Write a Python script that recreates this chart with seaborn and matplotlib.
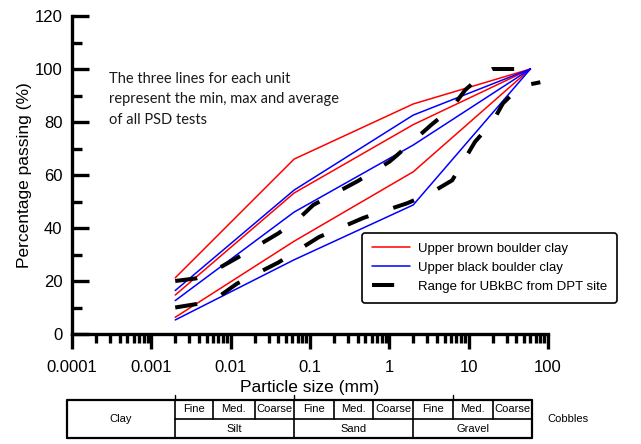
# 匯入套件
import numpy as np
import pandas as pd
import matplotlib
matplotlib.use("Agg")
import matplotlib.pyplot as plt
import seaborn as sns
from matplotlib.ticker import MultipleLocator, LogLocator, NullFormatter
from matplotlib.lines import Line2D

# 資料
sizes = [0.002, 0.063, 2, 60]
brown_max = [21.2, 66, 86.8, 100]
brown_avg = [14.7, 53.2, 79, 100]
brown_min = [6.3, 35, 61.2, 100]
black_max = [16.4, 54.3, 82.6, 100]
black_avg = [12.6, 46, 71.3, 100]
black_min = [5.3, 28, 48.7, 100]

dpt_upper_x = [0.002, 0.0037, 0.005, 0.012, 0.04, 0.075, 0.11, 0.4, 1.0, 1.2, 3.4, 6, 9, 15, 20, 80]
dpt_upper_y = [20, 21, 22.3, 28.7, 38, 44, 48.7, 57.7, 65, 67, 79, 85, 92, 98, 100, 100]
dpt_lower_x = [0.002, 0.0037, 0.007, 0.012, 0.04, 0.13, 0.47, 1.7, 3.5, 6.2, 12, 20, 27, 45, 80]
dpt_lower_y = [10, 11.3, 14, 19, 27, 36.6, 43.8, 49.4, 53.6, 58, 72.5, 80, 87, 93.5, 95]

x_ticks = [0.0001, 0.001, 0.01, 0.1, 1, 10, 100]
x_tick_labels = ["0.0001", "0.001", "0.01", "0.1", "1", "10", "100"]

# grading table
band_edges = [0.002, 0.006, 0.02, 0.063, 0.2, 0.63, 2, 6.3, 20, 63]
sub_labels = ["Fine", "Med.", "Coarse"] * 3
main_edges = [0.002, 0.063, 2, 63]
main_labels = ["Silt", "Sand", "Gravel"]

note = "The three lines for each unit\nrepresent the min, max and average\nof all PSD tests"

# long-form table for seaborn
rows = []
for name, vals in [("brown max", brown_max), ("brown avg", brown_avg), ("brown min", brown_min)]:
    for s, v in zip(sizes, vals):
        rows.append({"size": s, "passing": v, "unit": "Upper brown boulder clay", "line": name})
for name, vals in [("black max", black_max), ("black avg", black_avg), ("black min", black_min)]:
    for s, v in zip(sizes, vals):
        rows.append({"size": s, "passing": v, "unit": "Upper black boulder clay", "line": name})
df = pd.DataFrame(rows)

dpt = pd.concat([
    pd.DataFrame({"size": dpt_upper_x, "passing": dpt_upper_y, "line": "upper"}),
    pd.DataFrame({"size": dpt_lower_x, "passing": dpt_lower_y, "line": "lower"}),
])

sns.set_style("ticks")
plt.rcParams["font.family"] = ["Liberation Sans", "DejaVu Sans"]
plt.rcParams.update({"axes.edgecolor": "black", "xtick.color": "black", "ytick.color": "black",
                     "text.color": "black", "axes.labelcolor": "black"})

fig = plt.figure(figsize=(6.41, 4.44), dpi=100)
ax = fig.add_axes([72 / 641, 1 - 334 / 444, 476 / 641, 318 / 444])

palette = {"Upper brown boulder clay": "#ff0000", "Upper black boulder clay": "#0000ff"}
sns.lineplot(data=df, x="size", y="passing", hue="unit", units="line", estimator=None,
             palette=palette, sort=False, lw=1.1, legend=False, ax=ax)
dash = (0, (5.5, 6.5))
for key, grp in dpt.groupby("line"):
    sns.lineplot(data=grp, x="size", y="passing", sort=False, color="black",
                 lw=2.9, linestyle=dash, dash_capstyle="butt", ax=ax)

ax.set_xscale("log")
ax.set_xlim(1e-4, 100)
ax.set_ylim(0, 120)
ax.set_xticks(x_ticks)
ax.set_xticklabels(x_tick_labels)
ax.xaxis.set_minor_locator(LogLocator(base=10, subs=np.arange(2, 10)))
ax.xaxis.set_minor_formatter(NullFormatter())
ax.yaxis.set_major_locator(MultipleLocator(20))
ax.yaxis.set_minor_locator(MultipleLocator(10))

for side in ["top", "right"]:
    ax.spines[side].set_visible(False)
for side in ["left", "bottom"]:
    ax.spines[side].set_linewidth(2.4)

ax.tick_params(axis="y", which="major", direction="in", length=12, width=2.4, pad=7, labelsize=12)
ax.tick_params(axis="y", which="minor", direction="in", length=7, width=2.4)
ax.tick_params(axis="x", which="major", direction="out", length=11, width=2.4, pad=8, labelsize=12)
ax.tick_params(axis="x", which="minor", direction="out", length=6.5, width=2.4)

ax.set_xlabel("Particle size (mm)", fontsize=12.5, labelpad=3)
ax.set_ylabel("Percentage passing (%)", fontsize=12.5, labelpad=2)

ax.text(0.077, 0.825, note, transform=ax.transAxes, fontsize=10.5, family=["Lato", "DejaVu Sans"],
        va="top", ha="left", linespacing=1.6, color="#1a1a1a")

handles = [Line2D([], [], color="#ff0000", lw=1.1),
           Line2D([], [], color="#0000ff", lw=1.1),
           Line2D([], [], color="black", lw=2.9, linestyle=dash, dash_capstyle="butt")]
leg = ax.legend(handles, ["Upper brown boulder clay", "Upper black boulder clay",
                          "Range for UBkBC from DPT site"],
                loc="upper left", bbox_to_anchor=(0.609, 0.318), fontsize=9.5,
                frameon=True, fancybox=True, handlelength=2.9, handletextpad=0.6,
                labelspacing=0.5, borderpad=0.75, borderaxespad=0)
leg.get_frame().set_edgecolor("black")
leg.get_frame().set_linewidth(1.2)
leg.get_frame().set_alpha(1)

# classification table under the axis
tab = fig.add_axes([72 / 641, 1 - 438 / 444, 476 / 641, 38 / 444])
tab.set_xscale("log")
tab.set_xlim(1e-4, 100)
tab.set_ylim(0, 1)
tab.axis("off")
left_edge = 10 ** (-4 - 5 / 79.3)
kw = dict(color="black", clip_on=False)
tab.plot([left_edge, 63, 63, left_edge, left_edge], [0, 0, 1, 1, 0], lw=1.6, **kw)
tab.plot([0.002, 63], [0.5, 0.5], lw=1.2, **kw)
for e in band_edges:
    if e in main_edges:
        tab.plot([e, e], [0, 1], lw=1.2, **kw)
    else:
        tab.plot([e, e], [0.5, 1], lw=1.2, **kw)
for e in [0.002, 0.063, 6.3]:
    tab.plot([e, e], [1, 1.12], lw=1.0, **kw)
for i, lab in enumerate(sub_labels):
    xc = np.sqrt(band_edges[i] * band_edges[i + 1])
    tab.text(xc, 0.76, lab, ha="center", va="center", fontsize=8)
for i, lab in enumerate(main_labels):
    xc = np.sqrt(main_edges[i] * main_edges[i + 1])
    tab.text(xc, 0.24, lab, ha="center", va="center", fontsize=8)
tab.text(np.sqrt(left_edge * 0.002), 0.5, "Clay", ha="center", va="center", fontsize=8)
tab.text(180, 0.5, "Cobbles", ha="center", va="center", fontsize=8)

fig.savefig("out.png", dpi=100)
